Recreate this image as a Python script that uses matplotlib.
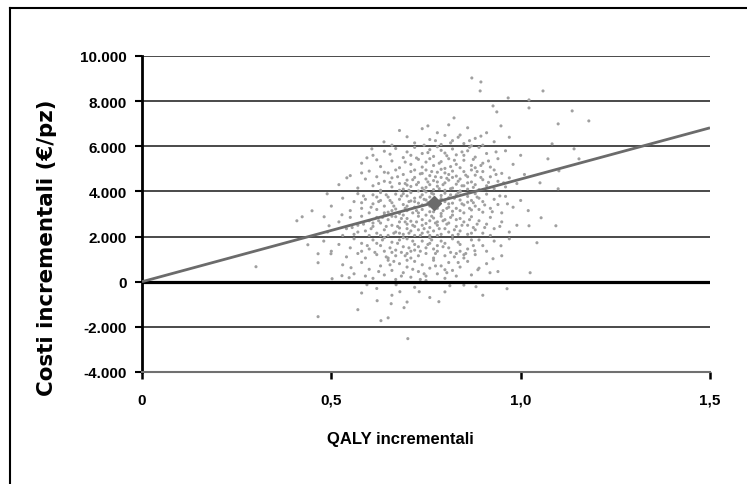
import matplotlib
matplotlib.use("Agg")
import matplotlib.pyplot as plt
from matplotlib.lines import Line2D
import numpy as np

plt.rcParams['font.family'] = ['Liberation Sans', 'DejaVu Sans']

# (QALY incrementali, costi incrementali)
punti = [
    # outliers
    (0.871, 9027), (0.895, 8850), (0.893, 8452), (1.059, 8452), (0.967, 8142), (1.022, 8054),
    (1.022, 7700), (0.927, 7788), (0.937, 7523), (1.136, 7567), (1.099, 6992), (1.180, 7124),
    (0.755, 6903), (0.824, 7257), (0.948, 6903), (1.083, 6107), (1.141, 5885), (1.072, 5443),
    (1.154, 5443), (1.101, 4912), (1.051, 4381), (1.099, 4115), (1.054, 2832), (1.093, 2478),
    (1.022, 2478), (1.043, 1726), (0.948, 1593), (1.025, 398), (0.927, 1018), (0.919, 398),
    (0.887, 531), (0.850, 1195), (0.879, 1372), (0.800, 531), (0.813, -177), (0.882, -221),
    (0.964, -310), (0.639, 6195), (0.607, 5885), (0.594, 5487), (0.541, 4602), (0.489, 3894),
    (0.449, 3142), (0.423, 2876), (0.409, 2699), (0.481, 2876), (0.494, 2478), (0.528, 2965),
    (0.465, -1549), (0.570, -1239), (0.621, -841), (0.631, -1726), (0.702, -2522), (0.692, -1150),
    (0.658, -974), (0.594, -133), (0.671, -133), (0.681, -443), (0.732, -443), (0.784, -885),
    (0.465, 1239), (0.465, 841), (0.438, 1637), (0.499, 1239), (0.552, 620), (0.502, 133),
    (0.528, 266), (0.547, 177), (0.301, 664),
    # 6000-7000
    (0.66, 6050), (0.70, 6420), (0.72, 6150), (0.74, 6780), (0.76, 6300), (0.78, 6600), (0.79, 6080),
    (0.81, 6950), (0.82, 6250), (0.84, 6500), (0.85, 6120), (0.86, 6820), (0.88, 6350), (0.90, 6050),
    (0.91, 6600), (0.93, 6200), (0.80, 6480), (0.68, 6700), (0.97, 6400), (0.87, 6020),
    (0.745, 6050), (0.775, 6250), (0.815, 6150), (0.835, 6400), (0.865, 6250), (0.895, 6450),
    # 5000-6000
    (0.58, 5250), (0.61, 5600), (0.63, 5100), (0.64, 5780), (0.66, 5350), (0.67, 5900), (0.68, 5050),
    (0.69, 5500), (0.70, 5750), (0.71, 5200), (0.72, 5950), (0.73, 5420), (0.74, 5080), (0.74, 5680),
    (0.75, 5300), (0.76, 5850), (0.77, 5150), (0.77, 5550), (0.78, 5980), (0.79, 5320), (0.80, 5700),
    (0.80, 5020), (0.81, 5450), (0.82, 5880), (0.83, 5200), (0.83, 5620), (0.84, 5050), (0.85, 5380),
    (0.86, 5800), (0.87, 5150), (0.88, 5520), (0.89, 5950), (0.90, 5250), (0.91, 5680), (0.92, 5080),
    (0.94, 5450), (0.96, 5800), (0.98, 5200), (1.00, 5600), (0.62, 5400), (0.71, 5600), (0.79, 5820),
    (0.85, 5600), (0.76, 5450), (0.88, 5050),
    (0.725, 5480), (0.755, 5720), (0.785, 5250), (0.805, 5580), (0.825, 5380), (0.845, 5750),
    (0.875, 5420), (0.895, 5150), (0.915, 5350), (0.935, 5750), (0.695, 5300), (0.655, 5650),
    (0.865, 5960), (0.815, 5100),
    # 4000-5000
    (0.52, 4300), (0.55, 4700), (0.57, 4150), (0.59, 4550), (0.60, 4900), (0.61, 4250), (0.62, 4650),
    (0.63, 4050), (0.64, 4450), (0.65, 4820), (0.66, 4200), (0.66, 4600), (0.67, 4950), (0.68, 4350),
    (0.69, 4750), (0.69, 4100), (0.70, 4500), (0.71, 4880), (0.71, 4220), (0.72, 4620), (0.73, 4020),
    (0.73, 4400), (0.74, 4800), (0.74, 4150), (0.75, 4550), (0.75, 4950), (0.76, 4300), (0.76, 4700),
    (0.77, 4080), (0.77, 4480), (0.78, 4850), (0.78, 4230), (0.79, 4620), (0.79, 4980), (0.80, 4380),
    (0.80, 4050), (0.81, 4750), (0.81, 4500), (0.82, 4150), (0.82, 4900), (0.83, 4320), (0.83, 4680),
    (0.84, 4020), (0.84, 4550), (0.85, 4880), (0.85, 4250), (0.86, 4650), (0.86, 4100), (0.87, 4420),
    (0.87, 4950), (0.88, 4300), (0.88, 4720), (0.89, 4080), (0.90, 4520), (0.90, 4880), (0.91, 4250),
    (0.92, 4650), (0.93, 4120), (0.94, 4450), (0.95, 4800), (0.96, 4200), (0.97, 4600), (0.99, 4350),
    (1.01, 4750), (0.64, 4850), (0.70, 4280), (0.78, 4420), (0.82, 4620), (0.72, 4950), (0.68, 4050),
    (0.58, 4820), (0.75, 4180), (0.80, 4820), (0.86, 4380), (0.93, 4950),
    (0.655, 4400), (0.675, 4650), (0.695, 4350), (0.715, 4520), (0.735, 4780), (0.755, 4420),
    (0.775, 4650), (0.795, 4300), (0.815, 4120), (0.835, 4450), (0.855, 4720), (0.875, 4180),
    (0.895, 4620), (0.915, 4400), (0.935, 4750), (0.625, 4350), (0.705, 4050), (0.765, 4880),
    (0.845, 4250), (0.885, 4880), (0.725, 4300), (0.805, 4580), (0.745, 4050), (0.955, 4380),
    (0.785, 4120),
    # 3000-4000
    (0.50, 3350), (0.53, 3700), (0.55, 3150), (0.56, 3550), (0.57, 3900), (0.58, 3250), (0.59, 3650),
    (0.60, 3050), (0.61, 3450), (0.61, 3850), (0.62, 3200), (0.63, 3600), (0.63, 3950), (0.64, 3350),
    (0.65, 3750), (0.65, 3080), (0.66, 3500), (0.67, 3880), (0.67, 3220), (0.68, 3650), (0.68, 3020),
    (0.69, 3420), (0.70, 3800), (0.70, 3150), (0.71, 3580), (0.71, 3950), (0.72, 3300), (0.72, 3700),
    (0.73, 3050), (0.73, 3480), (0.74, 3850), (0.74, 3200), (0.75, 3620), (0.75, 3980), (0.76, 3350),
    (0.76, 3750), (0.77, 3100), (0.77, 3880), (0.78, 3450), (0.78, 3250), (0.79, 3680), (0.79, 3020),
    (0.80, 3550), (0.80, 3920), (0.81, 3300), (0.81, 3720), (0.82, 3120), (0.82, 3480), (0.83, 3850),
    (0.83, 3250), (0.84, 3620), (0.84, 3980), (0.85, 3400), (0.85, 3050), (0.86, 3780), (0.86, 3520),
    (0.87, 3180), (0.88, 3900), (0.88, 3350), (0.89, 3700), (0.90, 3080), (0.90, 3550), (0.91, 3880),
    (0.92, 3250), (0.93, 3650), (0.94, 3420), (0.95, 3050), (0.96, 3780), (0.98, 3300), (1.00, 3600),
    (1.02, 3150), (0.62, 3750), (0.66, 3150), (0.69, 3900), (0.72, 3550), (0.76, 3100), (0.79, 3820),
    (0.81, 3450), (0.84, 3150), (0.87, 3600), (0.58, 3500), (0.64, 3050), (0.74, 3400), (0.89, 3200),
    (0.70, 3350),
    (0.605, 3300), (0.625, 3550), (0.645, 3850), (0.665, 3350), (0.685, 3800), (0.705, 3550),
    (0.725, 3150), (0.745, 3650), (0.765, 3920), (0.785, 3580), (0.805, 3250), (0.825, 3700),
    (0.845, 3450), (0.865, 3250), (0.885, 3750), (0.905, 3400), (0.925, 3100), (0.945, 3800),
    (0.655, 3600), (0.715, 3050), (0.755, 3500), (0.795, 3150), (0.835, 3950), (0.875, 3500),
    (0.695, 3250), (0.735, 3750), (0.775, 3300), (0.815, 3850), (0.585, 3800), (0.965, 3450),
    # 2000-3000
    (0.49, 2200), (0.52, 2650), (0.54, 2350), (0.55, 2850), (0.56, 2100), (0.57, 2500), (0.58, 2900),
    (0.59, 2250), (0.60, 2700), (0.60, 2050), (0.61, 2450), (0.62, 2850), (0.62, 2150), (0.63, 2600),
    (0.64, 2950), (0.64, 2300), (0.65, 2750), (0.65, 2050), (0.66, 2500), (0.67, 2880), (0.67, 2200),
    (0.68, 2650), (0.68, 2380), (0.69, 2950), (0.69, 2100), (0.70, 2550), (0.70, 2800), (0.71, 2250),
    (0.71, 2680), (0.72, 2050), (0.72, 2450), (0.73, 2900), (0.73, 2300), (0.74, 2750), (0.74, 2150),
    (0.75, 2580), (0.75, 2950), (0.76, 2400), (0.76, 2050), (0.77, 2820), (0.77, 2250), (0.78, 2650),
    (0.78, 2500), (0.79, 2100), (0.79, 2900), (0.80, 2350), (0.80, 2750), (0.81, 2200), (0.81, 2600),
    (0.82, 2950), (0.82, 2050), (0.83, 2450), (0.84, 2800), (0.84, 2250), (0.85, 2650), (0.86, 2100),
    (0.86, 2500), (0.87, 2880), (0.88, 2300), (0.89, 2700), (0.90, 2150), (0.91, 2550), (0.92, 2850),
    (0.93, 2350), (0.95, 2650), (0.97, 2200), (0.99, 2500), (0.57, 2200), (0.63, 2050), (0.66, 2900),
    (0.70, 2350), (0.74, 2500), (0.78, 2050), (0.83, 2750), (0.87, 2150), (0.61, 2600), (0.68, 2150),
    (0.76, 2700), (0.92, 2050), (0.53, 2050),
    (0.585, 2550), (0.605, 2350), (0.625, 2700), (0.645, 2450), (0.665, 2150), (0.685, 2800),
    (0.705, 2150), (0.725, 2650), (0.745, 2350), (0.765, 2900), (0.785, 2350), (0.805, 2550),
    (0.825, 2300), (0.845, 2500), (0.865, 2750), (0.885, 2550), (0.905, 2400), (0.635, 2850),
    (0.675, 2450), (0.715, 2500), (0.755, 2200), (0.795, 2700), (0.835, 2100), (0.875, 2400),
    (0.555, 2400), (0.945, 2450), (0.695, 2650), (0.735, 2050), (0.775, 2600), (0.815, 2850),
    # 1000-2000
    (0.48, 1800), (0.50, 1350), (0.52, 1650), (0.54, 1100), (0.55, 1500), (0.56, 1900), (0.57, 1250),
    (0.58, 1700), (0.59, 1050), (0.60, 1450), (0.61, 1850), (0.62, 1200), (0.63, 1600), (0.64, 1950),
    (0.64, 1350), (0.65, 1050), (0.66, 1750), (0.67, 1400), (0.67, 1150), (0.68, 1850), (0.69, 1550),
    (0.70, 1250), (0.70, 1900), (0.71, 1050), (0.72, 1650), (0.72, 1400), (0.73, 1150), (0.74, 1800),
    (0.75, 1500), (0.75, 1250), (0.76, 1950), (0.77, 1050), (0.78, 1600), (0.78, 1350), (0.79, 1800),
    (0.80, 1150), (0.81, 1500), (0.82, 1900), (0.83, 1250), (0.84, 1650), (0.85, 1050), (0.86, 1450),
    (0.87, 1850), (0.88, 1200), (0.90, 1600), (0.91, 1350), (0.93, 1800), (0.95, 1150), (0.97, 1900),
    (0.62, 1700), (0.66, 1300), (0.69, 1950), (0.73, 1550), (0.77, 1450), (0.80, 1700), (0.58, 1350),
    (0.71, 1350), (0.76, 1700), (0.84, 1350), (0.89, 1850),
    (0.595, 1600), (0.615, 1300), (0.635, 1850), (0.655, 1500), (0.675, 1700), (0.695, 1150),
    (0.715, 1800), (0.735, 1350), (0.755, 1650), (0.775, 1250), (0.795, 1550), (0.815, 1300),
    (0.835, 1750), (0.855, 1250), (0.875, 1600), (0.645, 1100), (0.705, 1500), (0.765, 1850),
    (0.825, 1100), (0.685, 1300),
    # 0-1000
    (0.53, 750), (0.56, 350), (0.58, 850), (0.60, 550), (0.61, 150), (0.63, 700), (0.64, 300),
    (0.65, 950), (0.66, 500), (0.67, 100), (0.68, 800), (0.69, 400), (0.70, 650), (0.71, 200),
    (0.72, 900), (0.73, 450), (0.74, 750), (0.75, 250), (0.76, 600), (0.77, 950), (0.78, 350),
    (0.79, 700), (0.80, 150), (0.81, 850), (0.82, 500), (0.83, 250), (0.84, 650), (0.86, 900),
    (0.87, 300), (0.89, 600), (0.91, 800), (0.94, 450), (0.59, 250), (0.70, 950), (0.75, 50),
    (0.625, 450), (0.655, 750), (0.685, 250), (0.715, 550), (0.745, 350), (0.775, 700),
    (0.805, 400), (0.835, 850), (0.665, 900), (0.735, 100),
    # below 0
    (0.62, -300), (0.66, -600), (0.72, -250), (0.76, -700), (0.80, -450), (0.85, -150),
    (0.58, -500), (0.70, -900), (0.90, -600), (0.65, -1600),
]
qaly_inc = np.array([p[0] for p in punti])
costi_inc = np.array([p[1] for p in punti])

# mean point (diamond); the ICER line runs from the origin through it
media_qaly = 0.77
media_costi = 3500

x_ticks = [0, 0.5, 1.0, 1.5]
x_labels = ["0", "0,5", "1,0", "1,5"]
y_ticks = [-4000, -2000, 0, 2000, 4000, 6000, 8000, 10000]
y_labels = ["-4.000", "-2.000", "0", "2.000", "4.000", "6.000", "8.000", "10.000"]

fig = plt.figure(figsize=(7.47, 4.85), dpi=100)
ax = fig.add_axes([142 / 747, 1 - 373 / 485, 568 / 747, 316 / 485])

for y in y_ticks[1:]:
    if y == 0:
        continue
    ax.axhline(y, color="#4a4a4a", lw=1.4, zorder=1)
ax.axhline(0, color="black", lw=2.3, zorder=3)

ax.scatter(qaly_inc, costi_inc, s=5, color="#a0a0a0", edgecolors="none", zorder=2)

pendenza = media_costi / media_qaly
xs = np.array([0, 1.5])
ax.plot(xs, pendenza * xs, color="#6b6b6b", lw=2.0, zorder=4, solid_capstyle="butt")
ax.plot([media_qaly], [media_costi], marker="D", ms=7, color="#6b6b6b", zorder=5)

ax.set_xlim(0, 1.5)
ax.set_ylim(-4000, 10000)
ax.set_xticks(x_ticks)
ax.set_xticklabels(x_labels, fontsize=11, fontweight="bold")
ax.set_yticks(y_ticks)
ax.set_yticklabels(y_labels, fontsize=11, fontweight="bold")

for side in ["top", "right"]:
    ax.spines[side].set_visible(False)
ax.spines["left"].set_color("black")
ax.spines["left"].set_linewidth(2)
ax.spines["bottom"].set_color("#707070")
ax.spines["bottom"].set_linewidth(1.5)
ax.tick_params(axis="y", direction="out", length=5, width=1.5, color="black", pad=6)
ax.tick_params(axis="x", direction="out", length=5, width=1.8, color="black", pad=10)

fig.text(400 / 747, 1 - 440 / 485, "QALY incrementali", ha="center", va="center",
         fontsize=12, fontweight="bold")
fig.text(47 / 747, 1 - 248 / 485, "Costi incrementali (€/pz)", ha="center", va="center",
         rotation=90, fontsize=15.4, fontweight="bold", family="DejaVu Sans")

# outer frame (top and left edges visible)
fig.add_artist(Line2D([10 / 747, 1], [1 - 9 / 485, 1 - 9 / 485], color="black", lw=1.5,
                      transform=fig.transFigure))
fig.add_artist(Line2D([10 / 747, 10 / 747], [0, 1 - 9 / 485], color="black", lw=1.5,
                      transform=fig.transFigure))

fig.savefig("out.png", dpi=100)
